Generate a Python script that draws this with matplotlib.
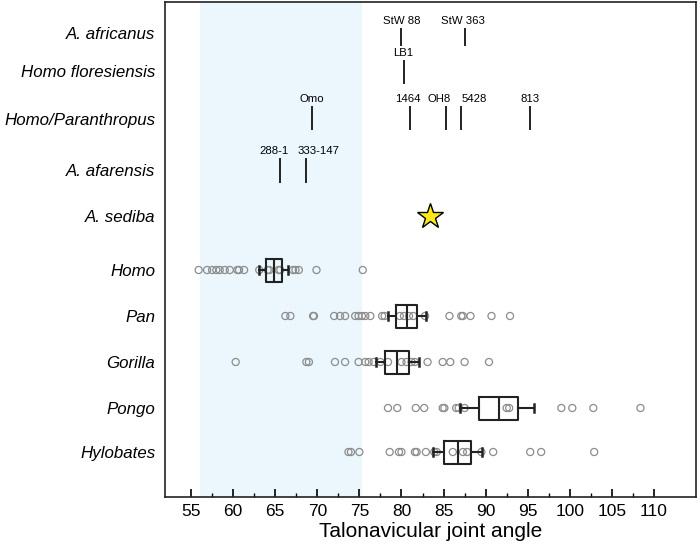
import numpy as np
import matplotlib.pyplot as plt

plt.rcParams['font.family'] = ['Liberation Sans', 'DejaVu Sans']

# =========================================
# DONNEES
# =========================================

row_labels = ["A. africanus", "Homo floresiensis", "Homo/Paranthropus",
              "A. afarensis", "A. sediba", "Homo", "Pan", "Gorilla",
              "Pongo", "Hylobates"]

# individual values
homo_pts = [55.9, 56.9, 57.5, 58.0, 58.4, 59.0, 59.6, 60.5, 60.7, 61.3,
            63.1, 64.1, 64.3, 65.4, 65.6, 67.1, 67.4, 67.8, 69.9, 75.4]
pan_pts = [66.2, 66.8, 69.5, 69.6, 72.0, 72.7, 73.3, 74.5, 74.9, 75.3,
           75.7, 76.3, 77.7, 78.0, 79.8, 80.3, 80.9, 81.4, 82.8, 85.7,
           87.1, 87.3, 88.2, 90.7, 92.9]
gorilla_pts = [60.3, 68.7, 69.0, 72.1, 73.3, 74.9, 75.7, 76.1, 76.7, 77.5,
               78.4, 80.0, 80.6, 81.2, 81.6, 83.1, 84.9, 85.8, 87.5, 90.4]
pongo_pts = [78.4, 79.5, 81.7, 82.7, 84.9, 85.1, 86.5, 86.8, 87.5, 92.5,
             92.8, 99.0, 100.3, 102.8, 108.4]
hylobates_pts = [73.7, 74.0, 75.0, 78.6, 79.7, 80.0, 81.6, 81.8, 82.9, 83.9,
                 84.2, 86.1, 87.3, 87.8, 89.5, 90.9, 95.3, 96.6, 102.9]

# box stats: q1, median, q3, low whisker, high whisker
box_q1 = [63.9, 79.4, 78.1, 89.2, 85.1]
box_med = [64.9, 80.6, 79.5, 91.6, 86.7]
box_q3 = [65.8, 81.8, 80.9, 93.9, 88.3]
box_lo = [63.1, 78.4, 77.0, 86.9, 83.7]
box_hi = [66.5, 82.9, 82.1, 95.8, 89.6]

# fossils
fossil_names = ["StW 88", "StW 363", "LB1", "Omo", "1464", "OH8", "5428",
                "813", "288-1", "333-147"]
fossil_values = [79.9, 87.5, 80.3, 69.4, 81.0, 85.3, 87.1, 95.3, 65.6, 68.6]
fossil_row = [0, 0, 1, 2, 2, 2, 2, 2, 3, 3]
fossil_label_x = [80.0, 87.3, 80.2, 69.3, 80.7, 84.5, 88.6, 95.3, 64.9, 70.2]

sediba_value = 83.4

xticks = np.arange(55, 111, 5)

# =========================================
# MISE EN PAGE
# =========================================

# vertical positions (in pixel-like units, axis inverted)
row_y = [33, 71, 119, 170, 216, 270, 316, 362, 408, 452]
line_y = [(29, 45), (61, 83), (107, 129), (159, 182)]

fig = plt.figure(figsize=(7.0, 5.49), dpi=100)
ax = fig.add_axes([165 / 700, 1 - 497 / 549, 531 / 700, 495 / 549])

ax.axvspan(56, 75.3, color='#ebf7fd', zorder=0, lw=0)

# points
groups = [homo_pts, pan_pts, gorilla_pts, pongo_pts, hylobates_pts]
for i, pts in enumerate(groups):
    y = row_y[5 + i]
    ax.scatter(pts, np.full(len(pts), y), s=26, facecolors='none',
               edgecolors='#8c8c8c', linewidths=0.9, zorder=2)

# boxes
stats = []
for i in range(5):
    stats.append(dict(q1=box_q1[i], med=box_med[i], q3=box_q3[i],
                      whislo=box_lo[i], whishi=box_hi[i], fliers=[]))
ax.bxp(stats, positions=row_y[5:], widths=23, orientation='horizontal',
       showfliers=False, capwidths=8, manage_ticks=False,
       boxprops=dict(color='#222222', lw=1.5),
       medianprops=dict(color='#222222', lw=1.5),
       whiskerprops=dict(color='#222222', lw=1.5),
       capprops=dict(color='#222222', lw=1.8))

# fossils
for name, v, r, lx in zip(fossil_names, fossil_values, fossil_row,
                          fossil_label_x):
    y0, y1 = line_y[r]
    ax.plot([v, v], [y0, y1], color='#222222', lw=1.4)
    ax.text(lx, y0 - 3, name, ha='center', va='bottom', fontsize=8.2)

ax.plot([sediba_value], [row_y[4]], marker='*', markersize=19,
        markerfacecolor='#ffe81a', markeredgecolor='black',
        markeredgewidth=1.0, ls='none', zorder=3)

ax.set_xlim(51.9, 115)
ax.set_ylim(497, 2)

ax.set_yticks(row_y)
ax.set_yticklabels(row_labels, fontstyle='italic', fontsize=12.2)
ax.tick_params(axis='y', length=0, pad=7)

ax.set_xticks(xticks)
ax.set_xticks(np.arange(57.5, 111, 5), minor=True)
ax.tick_params(axis='x', direction='in', length=6, width=1.2,
               labelsize=12.5, pad=5)
ax.tick_params(axis='x', which='minor', direction='in', length=3, width=1.0)
ax.set_xlabel("Talonavicular joint angle", fontsize=15, labelpad=2)

for s in ax.spines.values():
    s.set_linewidth(1.2)
    s.set_color('#222222')

plt.savefig("out.png", dpi=100)
